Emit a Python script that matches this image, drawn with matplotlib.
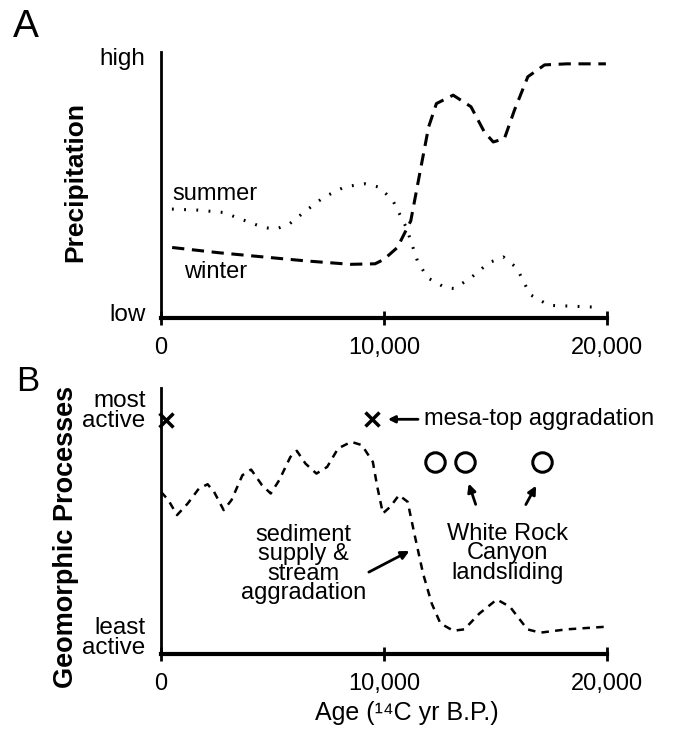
import matplotlib
matplotlib.use("Agg")
import matplotlib.pyplot as plt

plt.rcParams['font.family'] = ['Liberation Sans', 'DejaVu Sans']

# panel A - precipitation (0 = low, 1 = high)
winter_x = [500, 2600, 4600, 6500, 8500, 9600, 10000, 10600, 11200, 11600, 12000,
            12350, 13100, 13900, 14500, 14900, 15400, 15850, 16450, 17200, 18200, 19950]
winter_y = [0.268, 0.248, 0.232, 0.217, 0.204, 0.206, 0.223, 0.268, 0.369, 0.548, 0.726,
            0.815, 0.847, 0.803, 0.707, 0.669, 0.682, 0.790, 0.917, 0.962, 0.966, 0.966]
summer_x = [490, 1650, 2800, 3800, 4600, 5150, 5750, 6500, 7300, 8250, 9150, 9800,
            10400, 11000, 11500, 11950, 12750, 13150, 13900, 14700, 15350, 15950,
            16550, 17400, 18400, 19550]
summer_y = [0.414, 0.410, 0.401, 0.369, 0.344, 0.338, 0.357, 0.408, 0.459, 0.499, 0.510,
            0.497, 0.446, 0.344, 0.217, 0.153, 0.115, 0.112, 0.153, 0.210, 0.232, 0.191,
            0.089, 0.048, 0.045, 0.041]

# panel B - geomorphic activity (0 = least, 1 = most)
geo_x = [0, 330, 720, 1200, 1700, 2090, 2380, 2810, 3160, 3650, 4040, 4530, 4920, 5300,
         5800, 6090, 6480, 6970, 7450, 7940, 8530, 9010, 9500, 9700, 9950, 10280, 10670,
         11060, 11360, 11750, 12140, 12530, 13110, 13600, 14280, 15060, 15650, 16430,
         17010, 18190, 19940]
geo_y = [0.684, 0.649, 0.586, 0.635, 0.698, 0.716, 0.684, 0.607, 0.649, 0.754, 0.778,
         0.712, 0.677, 0.733, 0.831, 0.857, 0.803, 0.761, 0.789, 0.867, 0.895, 0.881,
         0.810, 0.705, 0.593, 0.621, 0.670, 0.642, 0.508, 0.340, 0.213, 0.129, 0.098,
         0.104, 0.171, 0.230, 0.199, 0.104, 0.090, 0.104, 0.115]
mesa_x = [230, 9460]
mesa_y = [0.985, 0.99]
slide_x = [12300, 13650, 17070]
slide_y = [0.81, 0.81, 0.81]

xticks = [0, 10000, 20000]
xticklabels = ['0', '10,000', '20,000']

fig = plt.figure(figsize=(6.83, 7.30), dpi=100)
axA = fig.add_axes([161/683, 1-318/730, 446/683, 266/730])
axB = fig.add_axes([161/683, 1-654/730, 446/683, 266/730])


def style(ax, ytop):
    ax.set_xlim(0, 20000)
    ax.set_ylim(0, ytop)
    for s in ['top', 'right']:
        ax.spines[s].set_visible(False)
    ax.spines['left'].set_linewidth(2)
    ax.spines['bottom'].set_linewidth(3)
    ax.set_xticks(xticks)
    ax.set_xticklabels(xticklabels, fontsize=17)
    ax.tick_params(axis='x', direction='inout', length=10, width=2, pad=9)
    ax.tick_params(axis='y', length=0, pad=11, labelsize=17.5)


style(axA, 1.011)
axA.plot(winter_x, winter_y, color='black', lw=2.2, ls=(0, (4, 2.5)))
axA.plot(summer_x, summer_y, color='black', lw=2.2, ls=(0, (0.6, 3.4)))
axA.set_yticks([0.02, 0.995])
axA.set_yticklabels(['low', 'high'])
axA.text(2420, 0.47, 'summer', fontsize=17, ha='center', va='center')
axA.text(2450, 0.175, 'winter', fontsize=17, ha='center', va='center')

style(axB, 1.122)
axB.plot(geo_x, geo_y, color='black', lw=1.8, ls=(0, (3, 2.5)))
axB.plot(mesa_x, mesa_y, ls='none', marker='x', ms=10, mew=2.5, color='black', clip_on=False)
axB.plot(slide_x, slide_y, ls='none', marker='o', ms=14, mew=2.2, mfc='none', mec='black')
axB.set_yticks([0.072, 1.03])
axB.set_yticklabels(['least\nactive', 'most\nactive'], multialignment='right', linespacing=0.85)
axB.annotate('', xy=(10050, 0.99), xytext=(11650, 0.99),
             arrowprops=dict(arrowstyle='-|>', lw=2, color='black', mutation_scale=10))
axB.text(11800, 0.99, 'mesa-top aggradation', fontsize=17, ha='left', va='center')
axB.text(6380, 0.38, 'sediment\nsupply &\nstream\naggradation', fontsize=17,
         ha='center', va='center', linespacing=0.85)
axB.annotate('', xy=(11250, 0.44), xytext=(9210, 0.34),
             arrowprops=dict(arrowstyle='-|>', lw=2, color='black', mutation_scale=12))
axB.text(15550, 0.425, 'White Rock\nCanyon\nlandsliding', fontsize=17,
         ha='center', va='center', linespacing=0.85)
axB.annotate('', xy=(13760, 0.73), xytext=(14150, 0.62),
             arrowprops=dict(arrowstyle='-|>', lw=2, color='black', mutation_scale=12))
axB.annotate('', xy=(16880, 0.72), xytext=(16300, 0.62),
             arrowprops=dict(arrowstyle='-|>', lw=2, color='black', mutation_scale=12))

fig.text(26/683, 1-27/730, 'A', fontsize=28, ha='center', va='center')
fig.text(28/683, 1-382/730, 'B', fontsize=25, ha='center', va='center')
fig.text(75/683, 1-182/730, 'Precipitation', fontsize=19, fontweight='bold',
         rotation=90, ha='center', va='center')
fig.text(66/683, 1-537/730, 'Geomorphic Processes', fontsize=19.5, fontweight='bold',
         rotation=90, ha='center', va='center')
fig.text(407/683, 1-713/730, 'Age (\u00b9\u2074C yr B.P.)', fontsize=18,
         ha='center', va='center')

fig.savefig('out.png', dpi=100)
